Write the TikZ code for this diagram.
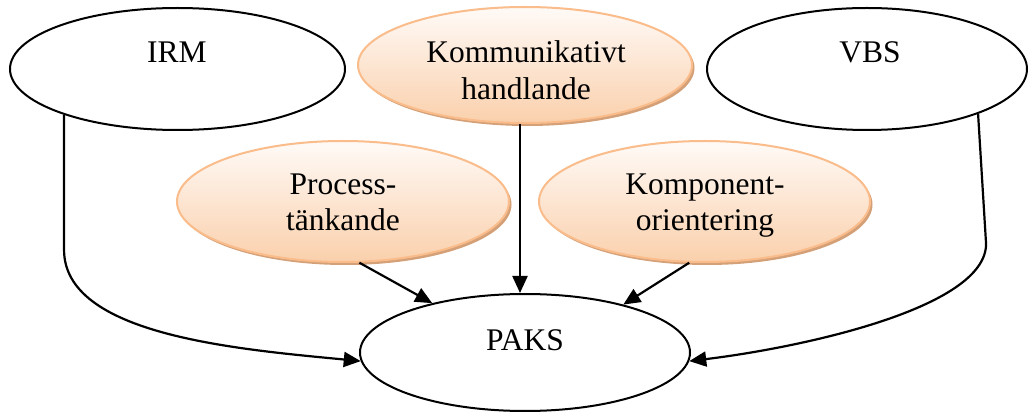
\documentclass[tikz,border=0pt]{standalone}
\usepackage{fontspec}
\setmainfont{Liberation Serif}
\usetikzlibrary{shapes.geometric,arrows.meta,shadows}

\definecolor{peachtop}{RGB}{255,250,247}
\definecolor{peachbottom}{RGB}{250,208,172}
\definecolor{peachborder}{RGB}{249,188,138}
\definecolor{peachshadow}{RGB}{212,160,120}

\tikzset{
  plainell/.style={ellipse, draw=black, line width=2pt, fill=white, inner sep=0pt},
  peachell/.style={ellipse, draw=peachborder, line width=2pt, inner sep=0pt,
    top color=peachtop, bottom color=peachbottom,
    drop shadow={shadow xshift=2.5pt, shadow yshift=-3pt, fill=peachshadow, opacity=1}},
  word/.style={anchor=base, inner sep=0pt, font=\fontsize{31.5pt}{36pt}\selectfont},
  arr/.style={line width=2.2pt, -{Triangle[length=17pt,width=15pt]}}
}

\begin{document}
\begin{tikzpicture}[x=1pt,y=-1pt]
  \useasboundingbox (0,0) rectangle (1029,414);

  % top row
  \node[plainell, minimum width=335pt, minimum height=122pt] (irm) at (177.5,69) {};
  \node[peachell, minimum width=334pt, minimum height=116pt] (komm) at (525,65) {};
  \node[plainell, minimum width=320pt, minimum height=122pt] (vbs) at (867,69) {};

  % middle row
  \node[peachell, minimum width=332pt, minimum height=121pt] (proc) at (343,201.5) {};
  \node[peachell, minimum width=331pt, minimum height=121pt] (komp) at (704.5,201.5) {};

  % result
  \node[plainell, minimum width=330pt, minimum height=117pt] (paks) at (525,352.5) {};

  % labels
  \node[word] (irmtext) at (177,63) {IRM};
  \node[word] (vbstext) at (870,63) {VBS};
  \node[word] (kommA) at (526,63) {Kommunikativt};
  \node[word] (kommB) at (526,100) {handlande};
  \node[word] (procA) at (343,195) {Process-};
  \node[word] (procB) at (343,231) {tänkande};
  \node[word] (kompA) at (705,195) {Komponent-};
  \node[word] (kompB) at (705,231) {orientering};
  \node[word] (pakstext) at (525,350) {PAKS};

  % connectors
  \draw[arr] (irm.202.4) -- ++(0,135)
    .. controls +(0,85) and +(-125,-12) .. (paks.183.6);
  \draw[arr] (vbs.338.2) -- ++(8,130)
    .. controls +(0,65) and +(108,-13) .. (paks.-3.6);
  \draw[arr] ([xshift=-5pt]komm.south) -- ([xshift=-5pt]paks.north);
  \draw[arr] (proc.285.5) -- (paks.152.9);
  \draw[arr] (komp.256.7) -- (paks.26.1);
\end{tikzpicture}
\end{document}
